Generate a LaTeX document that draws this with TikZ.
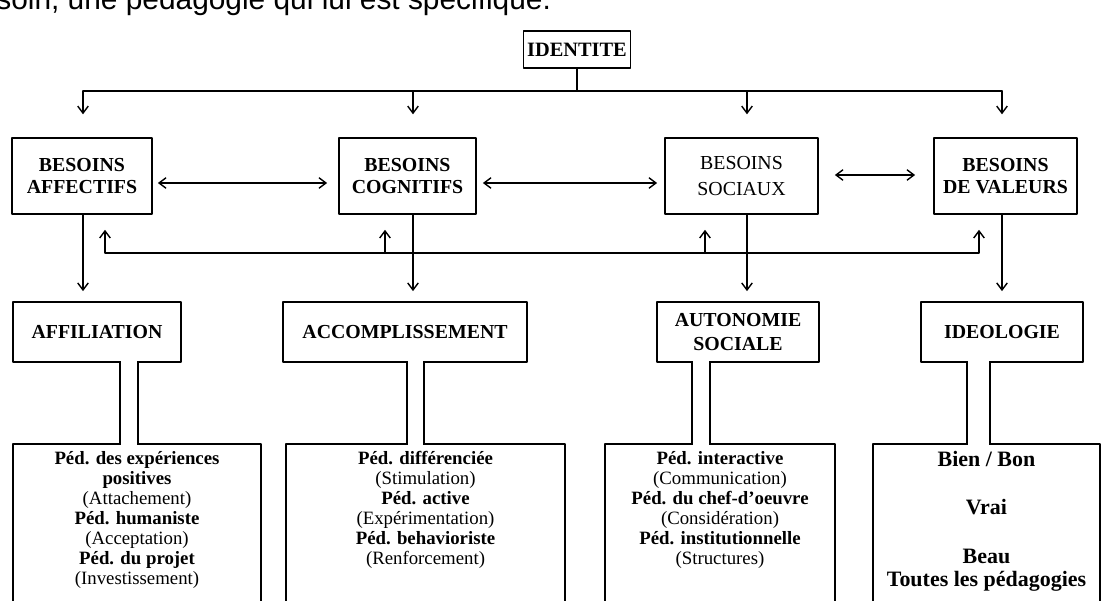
\documentclass[tikz,border=0pt]{standalone}
\usepackage{fontspec}
\setmainfont{Liberation Serif}
\newfontfamily\arialfont{Liberation Sans}
\usetikzlibrary{arrows.meta, calc, positioning}

\tikzset{
  besoin/.style={draw, line width=1pt, minimum height=1.52cm, align=center, inner sep=0pt,
    font=\fontsize{11.3}{13}\selectfont\bfseries},
  motif/.style={draw, line width=1pt, minimum height=1.2cm, align=center, inner sep=0pt,
    font=\fontsize{11.3}{13.5}\selectfont\bfseries},
  pedbox/.style={draw, line width=1pt, minimum height=4.32cm, inner sep=0pt},
  pedtext/.style={anchor=north, align=center, inner sep=0pt,
    font=\fontsize{10.7}{11.34}\selectfont},
  lien/.style={line width=0.8pt},
}

\begin{document}
\begin{tikzpicture}[line cap=round,line join=round,>={Straight Barb[length=4pt,width=6pt]},x=0.02cm,y=-0.02cm]
\useasboundingbox (0,0) rectangle (1111,601);
\clip (0,0) rectangle (1111,601);

\node[anchor=base west, inner sep=0pt, font=\arialfont\fontsize{17}{20}\selectfont] (phrase) at (-4,10)
  {soin, une pédagogie qui lui est spécifique.};

\node[draw, line width=1pt, minimum width=2.14cm, minimum height=0.74cm, inner sep=0pt,
  font=\fontsize{11.6}{13}\selectfont\bfseries] (identite) at (577,49.5) {IDENTITE};

\node[besoin, minimum width=2.8cm] (aff) at (82,176) {BESOINS\\AFFECTIFS};
\node[besoin, minimum width=2.74cm] (cog) at (407.5,176) {BESOINS\\COGNITIFS};
\node[besoin, minimum width=3.06cm, font=\fontsize{11.3}{14.5}\selectfont] (soc) at (741.5,176) {BESOINS\\SOCIAUX};
\node[besoin, minimum width=2.86cm] (val) at (1005.5,176) {BESOINS\\DE VALEURS};

\node[motif, minimum width=3.36cm] (affil) at (97,332) {AFFILIATION};
\node[motif, minimum width=4.88cm] (accomp) at (405,332) {ACCOMPLISSEMENT};
\node[motif, minimum width=3.24cm] (autonom) at (738,332) {AUTONOMIE\\SOCIALE};
\node[motif, minimum width=3.24cm] (ideol) at (1002,332) {IDEOLOGIE};

\node[pedbox, minimum width=4.96cm] (pedaff) at (137,552) {};
\node[pedbox, minimum width=5.58cm] (pedacc) at (425.5,552) {};
\node[pedbox, minimum width=4.6cm] (pedsoc) at (720,552) {};
\node[pedbox, minimum width=4.54cm] (pedval) at (986.5,552) {};

\coordinate (bar) at (0,91);
\coordinate (retour) at (0,253);
\coordinate (c1) at (83,0);
\coordinate (c2) at (413,0);
\coordinate (c3) at (747,0);
\coordinate (c4) at (1002,0);
\coordinate (r1) at (105,0);
\coordinate (r2) at (385,0);
\coordinate (r3) at (705,0);
\coordinate (r4) at (979,0);
\coordinate (s1) at (129,0);
\coordinate (s2) at (415.5,0);
\coordinate (s3) at (701,0);
\coordinate (s4) at (978.5,0);

% distribution
\draw[lien] (identite) -- (identite |- bar);
\draw[lien] (c1 |- bar) -- (c4 |- bar);
\foreach \c/\n in {c1/aff, c2/cog, c3/soc, c4/val}
  \draw[lien,->,shorten >=13pt] (\c |- bar) -- (\c |- \n.north);

\draw[lien,<->] ($(aff.east)+(5,7)$) -- ($(cog.west)+(-11,7)$);
\draw[lien,<->] ($(cog.east)+(6,7)$) -- ($(soc.west)+(-7,7)$);
\draw[lien,<->] ($(soc.east)+(16,-1)$) -- ($(val.west)+(-18,-1)$);

% retour
\draw[lien,<->,shorten <=8.5pt,shorten >=8.5pt] (r1 |- aff.south) -- (r1 |- retour) -- (r4 |- retour) -- (r4 |- val.south);
\foreach \r/\n in {r2/cog, r3/soc}
  \draw[lien,->,shorten >=8.5pt] (\r |- retour) -- (\r |- \n.south);

\foreach \c/\n/\m in {c1/aff/affil, c2/cog/accomp, c3/soc/autonom, c4/val/ideol}
  \draw[lien,->,shorten >=5.7pt] (\c |- \n.south) -- (\c |- \m.north);

% colonnes
\foreach \s/\w/\m/\p in {s1/9/affil/pedaff, s2/8.5/accomp/pedacc, s3/9/autonom/pedsoc, s4/11.5/ideol/pedval} {
  \fill[white] ($(\s |- \m.south)+(-\w+1,-3)$) rectangle ($(\s |- \p.north)+(\w-1,3)$);
  \draw[line width=1pt] ($(\s |- \m.south)+(-\w,0)$) -- ($(\s |- \p.north)+(-\w,0)$);
  \draw[line width=1pt] ($(\s |- \m.south)+(\w,0)$) -- ($(\s |- \p.north)+(\w,0)$);
}

\node[pedtext, below=4.5pt of pedaff.north] (tpedaff)
  {\textbf{Péd. des expériences}\\\textbf{positives}\\(Attachement)\\\textbf{Péd. humaniste}\\(Acceptation)\\\textbf{Péd. du projet}\\(Investissement)};
\node[pedtext, below=4.5pt of pedacc.north] (tpedacc)
  {\textbf{Péd. différenciée}\\(Stimulation)\\\textbf{Péd. active}\\(Expérimentation)\\\textbf{Péd. behavioriste}\\(Renforcement)};
\node[pedtext, below=4.5pt of pedsoc.north] (tpedsoc)
  {\textbf{Péd. interactive}\\(Communication)\\\textbf{Péd. du chef-d'oeuvre}\\(Considération)\\\textbf{Péd. institutionnelle}\\(Structures)};
\node[pedtext, below=4.5pt of pedval.north, font=\fontsize{12.5}{13}\selectfont\bfseries] (tpedval)
  {Bien / Bon\\[14.2pt]Vrai\\[14.8pt]Beau\\Toutes les pédagogies};
\end{tikzpicture}
\end{document}
